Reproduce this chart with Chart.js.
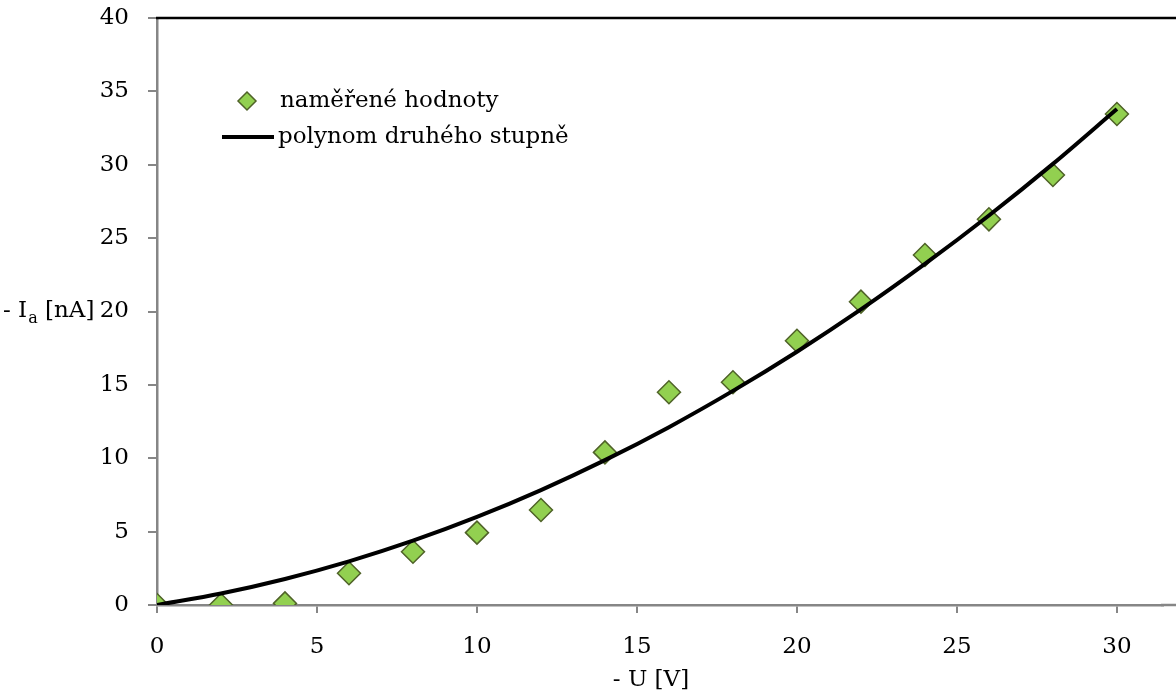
<!DOCTYPE html>
<html>
<head>
<meta charset="utf-8">
<script src="https://cdn.jsdelivr.net/npm/chart.js@4.4.1/dist/chart.umd.min.js"></script>
<style>
  html, body { margin: 0; padding: 0; background: #fff; overflow: hidden; }
  #wrap { width: 1176px; height: 693px; }
</style>
</head>
<body>
<div id="wrap"><canvas id="myChart" width="1176" height="693"></canvas></div>
<script>
// - U [V]
const voltages = [0, 2, 4, 6, 8, 10, 12, 14, 16, 18, 20, 22, 24, 26, 28, 30];
// - I_a [nA], measured points
const measured = [0, 0, 0.11, 2.16, 3.63, 4.93, 6.47, 10.4, 14.5, 15.18, 18.01, 20.67, 23.85, 26.28, 29.3, 33.46];
// trendline at the same voltages
const trend = [0, 0.78, 1.77, 2.97, 4.38, 6.0, 7.83, 9.87, 12.12, 14.59, 17.26, 20.14, 23.24, 26.54, 30.06, 33.8];

const xTicks = [0, 5, 10, 15, 20, 25, 30];
const yTicks = [0, 5, 10, 15, 20, 25, 30, 35, 40];

const legendLabels = ['naměřené hodnoty', 'polynom druhého stupně'];
const xTitle = '- U [V]';

const FONT = '"DejaVu Serif", serif';
const FONT_SIZE = 23;
const AXIS_GREY = '#868686';

function toPoints(xs, ys) {
  let arr = [];
  for (let i = 0; i < xs.length; i++) {
    arr.push({x: xs[i], y: ys[i]});
  }
  return arr;
}

// axis titles, legend and frame lines drawn by hand
const extras = {
  id: 'extras',
  afterDraw(chart) {
    const ctx = chart.ctx;
    const area = chart.chartArea;
    const ys = chart.scales.y;
    ctx.save();

    // top frame line, runs off the right edge
    ctx.strokeStyle = '#000';
    ctx.lineWidth = 2.5;
    ctx.beginPath();
    ctx.moveTo(area.left - 1, area.top);
    ctx.lineTo(chart.width, area.top);
    ctx.stroke();

    // x axis line continues to the right edge too
    ctx.strokeStyle = AXIS_GREY;
    ctx.beginPath();
    ctx.moveTo(area.right - 2, area.bottom);
    ctx.lineTo(chart.width, area.bottom);
    ctx.stroke();

    ctx.fillStyle = '#000';
    ctx.textBaseline = 'middle';

    // y title: - I_a [nA]
    let yMid = ys.getPixelForValue(20);
    let x = 3;
    ctx.font = FONT_SIZE + 'px ' + FONT;
    ctx.textAlign = 'left';
    ctx.fillText('- I', x, yMid);
    x += ctx.measureText('- I').width + 1;
    ctx.font = '16px ' + FONT;
    ctx.fillText('a', x, yMid + 7);
    x += ctx.measureText('a').width;
    ctx.font = FONT_SIZE + 'px ' + FONT;
    ctx.fillText(' [nA]', x, yMid);

    // x title
    ctx.textAlign = 'center';
    ctx.fillText(xTitle, 651, 680);

    // legend
    const scatterDs = chart.data.datasets[0];
    const lineDs = chart.data.datasets[1];
    ctx.fillStyle = scatterDs.pointBackgroundColor;
    ctx.strokeStyle = scatterDs.pointBorderColor;
    ctx.lineWidth = 1.5;
    ctx.beginPath();
    ctx.moveTo(247, 92);
    ctx.lineTo(256, 101);
    ctx.lineTo(247, 110);
    ctx.lineTo(238, 101);
    ctx.closePath();
    ctx.fill();
    ctx.stroke();

    ctx.strokeStyle = lineDs.borderColor;
    ctx.lineWidth = lineDs.borderWidth;
    ctx.beginPath();
    ctx.moveTo(222, 137);
    ctx.lineTo(274, 137);
    ctx.stroke();

    ctx.fillStyle = '#000';
    ctx.textAlign = 'left';
    ctx.font = FONT_SIZE + 'px ' + FONT;
    ctx.fillText(legendLabels[0], 280, 101);
    ctx.fillText(legendLabels[1], 278, 137);

    ctx.restore();
  }
};

const config = {
  type: 'scatter',
  data: {
    datasets: [{
      label: legendLabels[0],
      data: toPoints(voltages, measured),
      pointStyle: 'rectRot',
      pointRadius: 11.5,
      pointHoverRadius: 11.5,
      pointBackgroundColor: '#92D050',
      pointBorderColor: '#4F6228',
      pointBorderWidth: 1.5,
      showLine: false,
      order: 2
    }, {
      label: legendLabels[1],
      type: 'line',
      data: toPoints(voltages, trend),
      borderColor: '#000',
      borderWidth: 4,
      pointRadius: 0,
      hitRadius: 0,
      fill: false,
      cubicInterpolationMode: 'monotone',
      showLine: true,
      order: 1
    }]
  },
  options: {
    responsive: false,
    animation: false,
    layout: {
      padding: {top: 18, left: 0, right: 0, bottom: 0}
    },
    plugins: {
      legend: {display: false},
      tooltip: {enabled: false},
      title: {display: false}
    },
    scales: {
      x: {
        type: 'linear',
        min: 0,
        max: 31.44,
        afterBuildTicks: (scale) => {
          scale.ticks = xTicks.map(v => ({value: v}));
        },
        afterFit: (scale) => {
          scale.height = 88;
        },
        ticks: {
          color: '#000',
          font: {family: FONT, size: FONT_SIZE},
          padding: 20,
          maxRotation: 0,
          autoSkip: false
        },
        grid: {
          display: true,
          drawOnChartArea: false,
          drawTicks: true,
          tickLength: 8,
          color: AXIS_GREY,
          lineWidth: 2
        },
        border: {display: true, color: AXIS_GREY, width: 2.5}
      },
      y: {
        type: 'linear',
        min: 0,
        max: 40,
        afterBuildTicks: (scale) => {
          scale.ticks = yTicks.map(v => ({value: v}));
        },
        afterFit: (scale) => {
          scale.width = 157;
          scale.paddingTop = 0;
          scale.paddingBottom = 0;
        },
        ticks: {
          color: '#000',
          font: {family: FONT, size: FONT_SIZE},
          padding: 19,
          autoSkip: false
        },
        grid: {
          display: true,
          drawOnChartArea: false,
          drawTicks: true,
          tickLength: 9,
          color: AXIS_GREY,
          lineWidth: 2
        },
        border: {display: true, color: AXIS_GREY, width: 2.5}
      }
    }
  },
  plugins: [extras]
};

var myChart = document.getElementById('myChart').getContext('2d');
var theChart = new Chart(myChart, config);
</script>
</body>
</html>
